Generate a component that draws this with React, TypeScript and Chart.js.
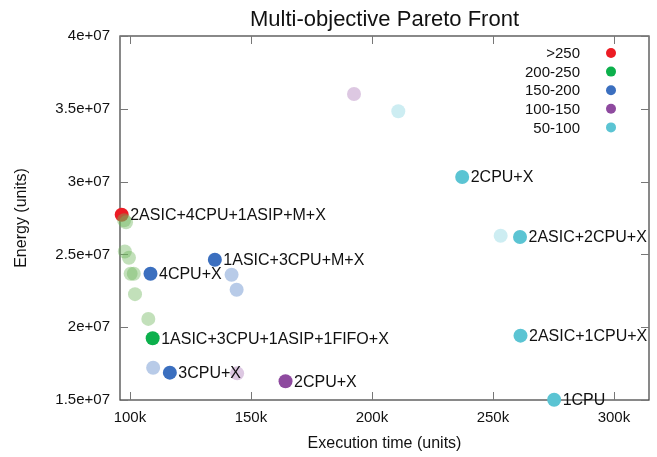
import React, { useEffect, useRef } from "react";
import { Chart, registerables } from "chart.js";

Chart.register(...registerables);

// ---- data ----
const seriesNames = [">250", "200-250", "150-200", "100-150", "50-100"];

const redTime = [96600];
const redEnergy = [2.772e7];
const redLabels = ["2ASIC+4CPU+1ASIP+M+X"];

const greenTime = [97600, 98400, 97900, 99600, 100300, 101600, 102100, 107600, 109400];
const greenEnergy = [2.735e7, 2.72e7, 2.52e7, 2.477e7, 2.367e7, 2.367e7, 2.227e7, 2.057e7, 1.924e7];
const greenLabels = ["", "", "", "", "", "", "", "", "1ASIC+3CPU+1ASIP+1FIFO+X"];

const blueTime = [108500, 135100, 142000, 144100, 109600, 116500];
const blueEnergy = [2.367e7, 2.463e7, 2.36e7, 2.257e7, 1.722e7, 1.688e7];
const blueLabels = ["4CPU+X", "1ASIC+3CPU+M+X", "", "", "", "3CPU+X"];

const purpleTime = [192600, 144300, 164300];
const purpleEnergy = [3.602e7, 1.683e7, 1.629e7];
const purpleLabels = ["", "", "2CPU+X"];

const cyanTime = [210900, 237300, 253200, 261200, 261400, 275300];
const cyanEnergy = [3.483e7, 3.032e7, 2.628e7, 2.619e7, 1.942e7, 1.5016e7];
const cyanLabels = ["", "2CPU+X", "", "2ASIC+2CPU+X", "2ASIC+1CPU+X", "1CPU"];

const xTickValues = [100000, 150000, 200000, 250000, 300000];
const yTickValues = [1.5e7, 2e7, 2.5e7, 3e7, 3.5e7, 4e7];

// ---- styles ----
const solidColors = ["#ec1c24", "#0cb04c", "#3b6fbf", "#8e4a9f", "#5bc4d3"];
const fadedColors = [
  "rgba(236,28,36,0.3)",
  "rgba(110,180,90,0.42)",
  "rgba(59,111,191,0.36)",
  "rgba(142,74,159,0.3)",
  "rgba(91,196,211,0.3)",
];
const FONT = "'Liberation Sans', Arial, Helvetica, sans-serif";

const seriesTime = [redTime, greenTime, blueTime, purpleTime, cyanTime];
const seriesEnergy = [redEnergy, greenEnergy, blueEnergy, purpleEnergy, cyanEnergy];
const seriesLabels = [redLabels, greenLabels, blueLabels, purpleLabels, cyanLabels];

function fmtExp(v: number): string {
  const [m, e] = v.toExponential().split("e");
  const sign = e[0] === "-" ? "-" : "+";
  const digits = e.replace(/[+-]/, "").padStart(2, "0");
  return `${m}e${sign}${digits}`;
}

const framePlugin = {
  id: "frameTicks",
  beforeDatasetsDraw(chart: any) {
    const { ctx, chartArea } = chart;
    const xs = chart.scales.x;
    const ys = chart.scales.y;
    const { left, right, top, bottom } = chartArea;
    ctx.save();
    ctx.strokeStyle = "#4a4a4a";
    ctx.lineWidth = 1.3;
    ctx.strokeRect(left, top, right - left, bottom - top);
    const tl = 8;
    ctx.lineWidth = 1;
    ctx.strokeStyle = "#777";
    ctx.beginPath();
    xTickValues.forEach((v) => {
      const px = Math.round(xs.getPixelForValue(v)) + 0.5;
      ctx.moveTo(px, bottom);
      ctx.lineTo(px, bottom - tl);
      ctx.moveTo(px, top);
      ctx.lineTo(px, top + tl);
    });
    yTickValues.forEach((v) => {
      const py = Math.round(ys.getPixelForValue(v)) + 0.5;
      ctx.moveTo(left, py);
      ctx.lineTo(left + tl, py);
      ctx.moveTo(right, py);
      ctx.lineTo(right - tl, py);
    });
    ctx.stroke();
    ctx.restore();
  },
  afterDatasetsDraw(chart: any) {
    const { ctx } = chart;
    ctx.save();
    ctx.fillStyle = "#111";
    ctx.font = `16px ${FONT}`;
    ctx.textAlign = "left";
    ctx.textBaseline = "middle";
    chart.data.datasets.forEach((ds: any, di: number) => {
      const meta = chart.getDatasetMeta(di);
      ds.data.forEach((pt: any, i: number) => {
        if (!pt.label) return;
        const el = meta.data[i];
        ctx.fillText(pt.label, el.x + 8.5, el.y + 1);
      });
    });
    ctx.restore();
  },
  afterDraw(chart: any) {
    const { ctx, chartArea } = chart;
    ctx.save();
    ctx.fillStyle = "#111";
    // title
    ctx.font = `22px ${FONT}`;
    ctx.textAlign = "center";
    ctx.textBaseline = "alphabetic";
    ctx.fillText("Multi-objective Pareto Front", (chartArea.left + chartArea.right) / 2, 26);
    // axis titles
    ctx.textBaseline = "middle";
    ctx.font = `16px ${FONT}`;
    ctx.fillText("Execution time (units)", (chartArea.left + chartArea.right) / 2, 444);
    ctx.save();
    ctx.translate(22, (chartArea.top + chartArea.bottom) / 2);
    ctx.rotate(-Math.PI / 2);
    ctx.fillText("Energy (units)", 0, 0);
    ctx.restore();
    // legend
    ctx.font = `15px ${FONT}`;
    ctx.textAlign = "right";
    seriesNames.forEach((name, i) => {
      const y = 53 + i * 18.6;
      ctx.fillStyle = "#111";
      ctx.fillText(name, 580, y + 1);
      ctx.fillStyle = solidColors[i];
      ctx.beginPath();
      ctx.arc(611, y, 5, 0, Math.PI * 2);
      ctx.fill();
    });
    ctx.restore();
  },
};

export default function App() {
  const ref = useRef<HTMLCanvasElement | null>(null);
  useEffect(() => {
    if (!ref.current) return;
    const datasets = seriesNames.map((name, si) => {
      const data = seriesTime[si].map((t, i) => ({
        x: t,
        y: seriesEnergy[si][i],
        label: seriesLabels[si][i],
      }));
      return {
        label: name,
        data,
        backgroundColor: data.map((d) => (d.label ? solidColors[si] : fadedColors[si])),
        borderWidth: 0,
        pointRadius: 7,
        pointHoverRadius: 7,
        clip: false,
        order: si === 0 ? 1 : 0,
      };
    });
    const chart = new Chart(ref.current, {
      type: "scatter",
      data: { datasets },
      options: {
        animation: false,
        responsive: false,
        devicePixelRatio: 1,
        layout: { padding: { top: 36, right: 8, left: 0, bottom: 0 } },
        plugins: {
          legend: { display: false },
          tooltip: { enabled: false },
          title: { display: false },
        },
        scales: {
          x: {
            type: "linear",
            min: 95900,
            max: 314500,
            grid: { display: false, drawTicks: false },
            border: { display: false },
            ticks: {
              font: { size: 15, family: FONT },
              color: "#111",
              padding: 9,
              maxRotation: 0,
              callback: (v: any) => `${Math.round(Number(v) / 1000)}k`,
            },
            afterBuildTicks: (scale: any) => {
              scale.ticks = xTickValues.map((v) => ({ value: v }));
            },
            afterFit: (scale: any) => {
              scale.height = 57;
            },
          },
          y: {
            type: "linear",
            min: 1.5e7,
            max: 4e7,
            grid: { display: false, drawTicks: false },
            border: { display: false },
            ticks: {
              font: { size: 15, family: FONT },
              color: "#111",
              padding: 10,
              callback: (v: any) => fmtExp(Number(v)),
            },
            afterBuildTicks: (scale: any) => {
              scale.ticks = yTickValues.map((v) => ({ value: v }));
            },
            afterFit: (scale: any) => {
              scale.width = 120;
            },
          },
        },
      } as any,
      plugins: [framePlugin],
    });
    return () => chart.destroy();
  }, []);
  return (
    <div style={{ position: "fixed", left: 0, top: 0, width: 657, height: 457, background: "#fff" }}>
      <canvas ref={ref} width={657} height={457} style={{ width: 657, height: 457, display: "block" }} />
    </div>
  );
}
